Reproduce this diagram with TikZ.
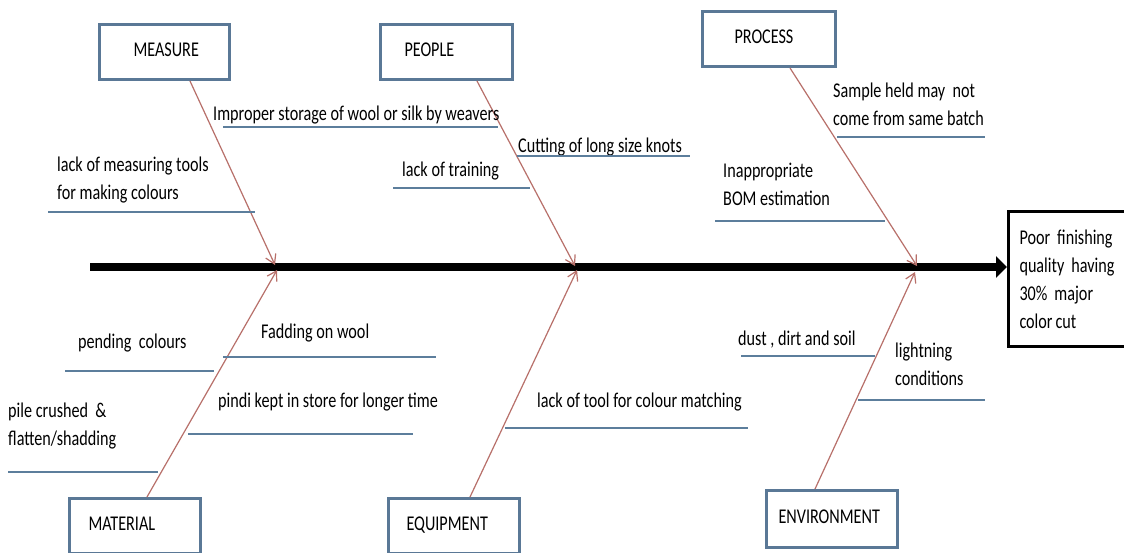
\documentclass[tikz,border=0pt]{standalone}
\usepackage{fontspec}
\setmainfont{Carlito}[FakeStretch=0.77]
\usetikzlibrary{arrows.meta,calc}
\definecolor{boxedge}{HTML}{5A7896}
\definecolor{causeline}{HTML}{5C7E9C}
\definecolor{bonecol}{HTML}{B8706A}
\tikzset{
  catbox/.style={draw=boxedge, line width=3pt, fill=white, inner sep=0pt,
    anchor=north west, minimum height=55pt},
  effectbox/.style={draw=black, line width=3pt, fill=white, anchor=north west,
    minimum height=135pt, minimum width=130pt, align=left, inner xsep=11pt,
    text width=108pt},
  cause/.style={anchor=base west, inner sep=0pt, align=left},
  subline/.style={draw=causeline, line width=1.3pt},
  bone/.style={draw=bonecol, line width=1.2pt,
    -{Straight Barb[length=9pt,width=11pt]}},
}
\newcommand{\catlabel}[3]{\raisebox{4pt}{\makebox[#1][l]{\hspace*{#2}#3}}}
\begin{document}
\begin{tikzpicture}[x=1pt, y=-1pt, font=\fontsize{21}{28}\selectfont]
\useasboundingbox[fill=white] (0,0) rectangle (1124,552);

% head of the fish
\node[effectbox] (effect) at (1007,210)
  {Poor finishing\\quality having\\30\% major\\color\hspace{3pt}cut};
\coordinate (tail) at (90,267);
\draw[line width=8pt, -{Triangle[length=11pt,width=21pt]}]
  (tail) -- (tail -| effect.west);

% category boxes
\node[catbox, minimum width=130pt] (measure) at (98,23)
  {\catlabel{130pt}{34pt}{MEASURE}};
\node[catbox, minimum width=132pt] (people) at (379,23)
  {\catlabel{132pt}{24pt}{PEOPLE}};
\node[catbox, minimum width=133pt] (process) at (701,10)
  {\catlabel{133pt}{32pt}{PROCESS}};
\node[catbox, minimum width=131pt] (material) at (68,497)
  {\catlabel{131pt}{19pt}{MATERIAL}};
\node[catbox, minimum width=131pt] (equipment) at (387,497)
  {\catlabel{131pt}{18pt}{EQUIPMENT}};
\node[catbox, minimum width=131pt, minimum height=57pt] (environment) at (765,489)
  {\catlabel{131pt}{12pt}{ENVIRONMENT}};

% where the bones meet the spine
\coordinate (tipM) at (275,265);
\coordinate (tipP) at (575,266);
\coordinate (tipR) at (917,266);
\coordinate (tipA) at (277,270);
\coordinate (tipE) at (577,270);
\coordinate (tipN) at (915,272);

% main bones
\draw[bone] ([xshift=92pt]measure.south west) -- (tipM);
\draw[bone] ([xshift=98pt]people.south west) -- (tipP);
\draw[bone] ([xshift=89pt]process.south west) -- (tipR);
\draw[bone] ([xshift=79pt]material.north west) -- (tipA);
\draw[bone] ([xshift=83pt]equipment.north west) -- (tipE);
\draw[bone] ([xshift=50pt]environment.north west) -- (tipN);

% causes: measure (two-line labels sit on the base of their last line)
\node[cause] (c1) at (213,120) {Improper storage of wool or silk by weavers};
\draw[subline] (223,127) -- (498,127);
\node[cause] (c2) at (57,199) {lack of measuring tools\\for making colours};
\draw[subline] (48,212) -- (255,212);

% causes: people
\node[cause] (c3) at (402,176) {lack of training};
\draw[subline] (393,188) -- (530,188);
\node[cause] (c4) at (518,152) {Cutting of long size knots};
\draw[subline] (517,156) -- (690,156);

% causes: process
\node[cause] (c5) at (833,125) {Sample held may~ not\\come from same batch};
\draw[subline] (837,137) -- (985,137);
\node[cause] (c6) at (723,205) {Inappropriate\\BOM estimation};
\draw[subline] (715,221) -- (885,221);

% causes: material
\node[cause] (c7) at (78,348) {pending~ colours};
\draw[subline] (65,371) -- (214,371);
\node[cause] (c8) at (261,338) {Fadding on wool};
\draw[subline] (223,357) -- (436,357);
\node[cause] (c9) at (8,445) {pile crushed~ \&\\flatten/shadding};
\draw[subline] (8,472) -- (158,472);
\node[cause] (c10) at (218,407) {pindi kept in store for longer time};
\draw[subline] (188,434) -- (413,434);

% causes: equipment
\node[cause] (c11) at (537,407) {lack of tool for colour matching};
\draw[subline] (505,428) -- (748,428);

% causes: environment
\node[cause] (c12) at (738,345) {dust , dirt and soil};
\draw[subline] (741,356) -- (875,356);
\node[cause] (c13) at (895,385) {lightning\\conditions};
\draw[subline] (858,400) -- (985,400);
\end{tikzpicture}
\end{document}
